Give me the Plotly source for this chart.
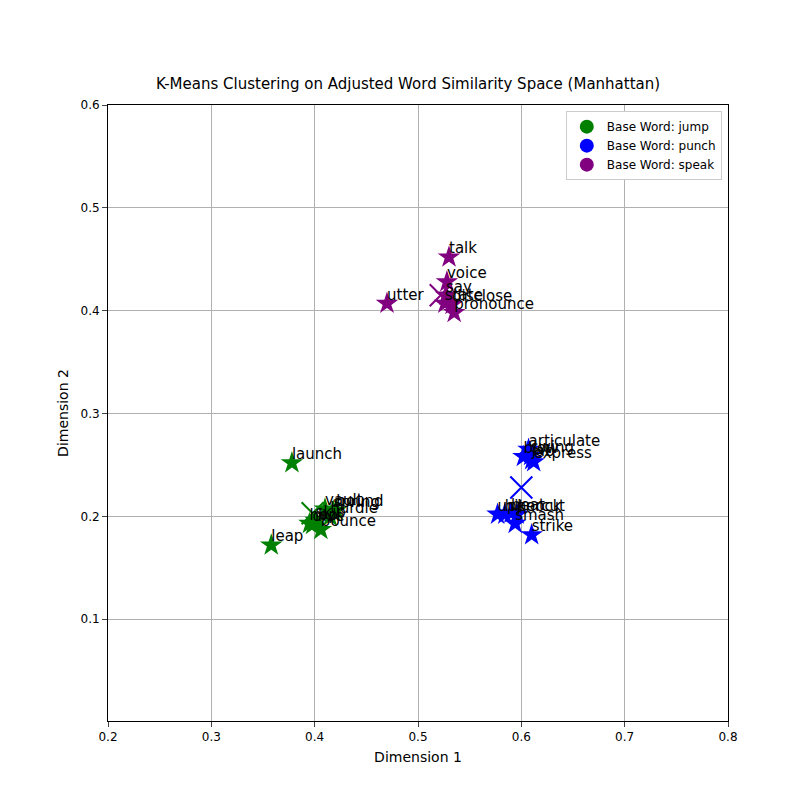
import plotly.graph_objects as go

# word coordinates per base word
jump_words = ['launch', 'leap', 'bounce', 'hop', 'skip', 'dive', 'hurdle', 'vault', 'spring', 'bound']
jump_x = [0.378, 0.358, 0.406, 0.395, 0.401, 0.398, 0.415, 0.410, 0.418, 0.421]
jump_y = [0.252, 0.172, 0.187, 0.193, 0.196, 0.192, 0.200, 0.207, 0.205, 0.206]
jump_center = (0.398, 0.203)

punch_words = ['articulate', 'blow', 'jab', 'express', 'swing', 'uppercut', 'hit', 'beat', 'knock', 'smash', 'strike']
punch_x = [0.607, 0.602, 0.610, 0.612, 0.609, 0.577, 0.584, 0.590, 0.596, 0.594, 0.610]
punch_y = [0.265, 0.258, 0.255, 0.253, 0.259, 0.202, 0.202, 0.203, 0.202, 0.193, 0.182]
punch_center = (0.600, 0.228)

speak_words = ['talk', 'voice', 'say', 'state', 'disclose', 'pronounce', 'utter']
speak_x = [0.530, 0.528, 0.527, 0.526, 0.533, 0.535, 0.470]
speak_y = [0.452, 0.428, 0.415, 0.407, 0.406, 0.398, 0.407]
speak_center = (0.522, 0.415)

groups = [
    ('jump', jump_words, jump_x, jump_y, jump_center, 'green'),
    ('punch', punch_words, punch_x, punch_y, punch_center, 'blue'),
    ('speak', speak_words, speak_x, speak_y, speak_center, 'purple'),
]

fig = go.Figure()
for name, words, xs, ys, c, col in groups:
    # legend entry uses a circle like matplotlib's scatter
    fig.add_trace(go.Scatter(x=[None], y=[None], mode='markers', name='Base Word: ' + name,
                             marker=dict(symbol='circle', size=14, color=col)))
    fig.add_trace(go.Scatter(x=xs, y=ys, mode='markers', showlegend=False,
                             marker=dict(symbol='star', size=17, color=col)))
    fig.add_trace(go.Scatter(x=[c[0]], y=[c[1]], mode='markers', showlegend=False,
                             marker=dict(symbol='x-thin-open', size=22, color=col, line=dict(width=2, color=col))))

# labels drawn on top, starting at the point like matplotlib's text
for name, words, xs, ys, c, col in groups:
    fig.add_trace(go.Scatter(x=xs, y=ys, mode='text', text=words, textposition='top right',
                             textfont=dict(size=15, color='black'), showlegend=False))

fig.update_layout(
    width=800, height=800,
    plot_bgcolor='white', paper_bgcolor='white',
    font=dict(family='DejaVu Sans', size=12, color='black'),
    title=dict(text='K-Means Clustering on Adjusted Word Similarity Space (Manhattan)',
               x=0.5, y=0.905, xanchor='center', yanchor='middle', font=dict(size=15)),
    margin=dict(l=100, r=80, t=97, b=87, autoexpand=False),
    legend=dict(x=0.99, y=0.99, xanchor='right', yanchor='top',
                bordercolor='#cccccc', borderwidth=1, font=dict(size=12)),
)
fig.update_xaxes(range=[0.2, 0.8], dtick=0.1, tickformat='.1f', showgrid=True, gridcolor='#b0b0b0',
                 showline=True, linecolor='black', mirror=True, ticks='outside', zeroline=False,
                 title_text='Dimension 1', title_standoff=8, automargin=False)
fig.update_yaxes(range=[0.001, 0.6], tickvals=[0.1, 0.2, 0.3, 0.4, 0.5, 0.6], tickformat='.1f',
                 showgrid=True, gridcolor='#b0b0b0', showline=True, linecolor='black', mirror=True,
                 ticks='outside', zeroline=False, title_text='Dimension 2', title_standoff=8,
                 automargin=False)

fig.write_html('out.html')
